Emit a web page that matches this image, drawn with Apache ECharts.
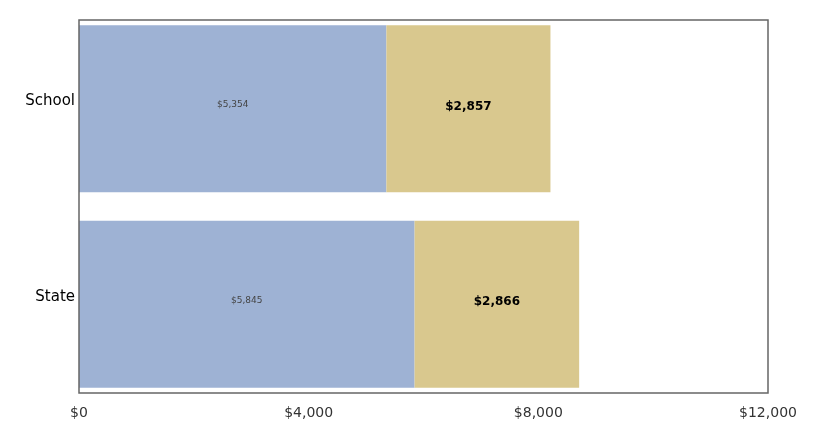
<!DOCTYPE html>
<html>
<head>
<meta charset="utf-8">
<script src="https://cdn.jsdelivr.net/npm/echarts@6/dist/echarts.min.js"></script>
<style>html,body{margin:0;padding:0;background:#fff}#c{width:817px;height:432px}</style>
</head>
<body>
<div id="c"></div>
<script>
var categories = ['School', 'State'];
var series1Values = [5354, 5845];
var series2Values = [2857, 2866];
var xTicks = [0, 4000, 8000, 12000];

function fmt(v) { return '$' + v.toLocaleString('en-US'); }

var chart = echarts.init(document.getElementById('c'));
chart.setOption({
  animation: false,
  grid: [
    { left: 79, right: 49, top: 11, bottom: 30, show: false },
    { left: 79, right: 49, top: 20, bottom: 39, show: true, borderColor: '#666', borderWidth: 1.5, backgroundColor: 'transparent', z: 5 }
  ],
  xAxis: [{
    type: 'value', min: xTicks[0], max: xTicks[xTicks.length - 1], interval: xTicks[1] - xTicks[0], gridIndex: 0,
    axisLine: { show: false }, axisTick: { show: false }, splitLine: { show: false },
    axisLabel: { formatter: function (v) { return fmt(v); }, fontFamily: 'DejaVu Sans', fontSize: 14, color: '#333', margin: 4 }
  }, {
    type: 'value', gridIndex: 1, show: false
  }],
  yAxis: [{
    type: 'category', data: categories, inverse: true, gridIndex: 0,
    axisLine: { show: false }, axisTick: { show: false },
    axisLabel: { fontFamily: 'DejaVu Sans', fontSize: 15, color: '#000', margin: 4, verticalAlign: 'bottom' }
  }, {
    type: 'category', gridIndex: 1, show: false, data: categories
  }],
  series: [
    { type: 'bar', stack: 'a', data: series1Values, barCategoryGap: '14.6%',
      itemStyle: { color: '#9eb2d4' },
      label: { show: true, position: 'inside', formatter: function (p) { return fmt(p.value); }, fontFamily: 'DejaVu Sans', fontSize: 9, color: '#444', offset: [0, -4] } },
    { type: 'bar', stack: 'a', data: series2Values,
      itemStyle: { color: '#d9c88e' },
      label: { show: true, position: 'inside', formatter: function (p) { return fmt(p.value); }, fontFamily: 'DejaVu Sans', fontSize: 12, fontWeight: 'bold', color: '#000', offset: [0, -2] } }
  ]
});
</script>
</body>
</html>
